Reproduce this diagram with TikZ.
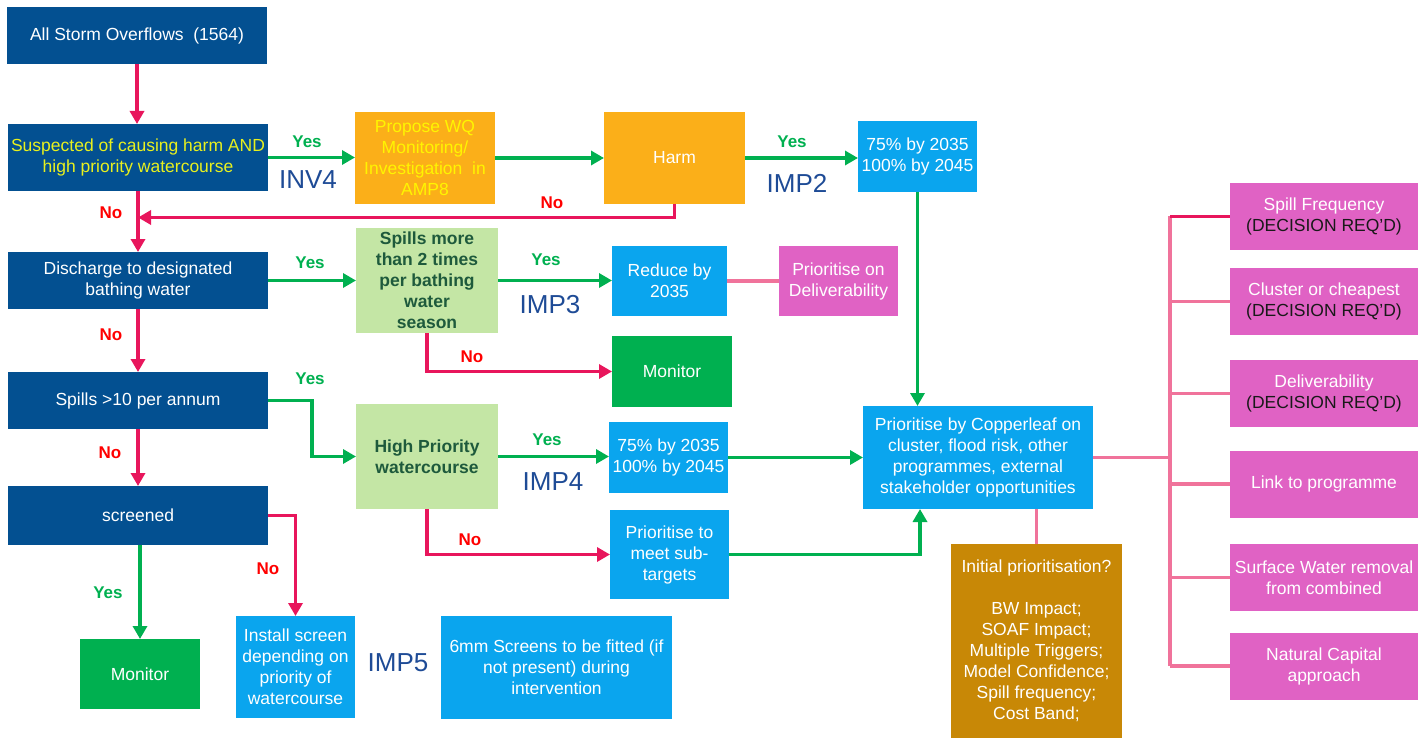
\documentclass[tikz,border=0pt]{standalone}
\usepackage{fontspec}
\setmainfont{Liberation Sans}
\usetikzlibrary{arrows.meta}

\definecolor{navy}{RGB}{3,80,145}
\definecolor{amber}{RGB}{251,175,25}
\definecolor{sky}{RGB}{10,165,238}
\definecolor{pale}{RGB}{196,230,165}
\definecolor{leaf}{RGB}{0,176,80}
\definecolor{orchid}{RGB}{224,98,196}
\definecolor{ochre}{RGB}{200,136,6}
\definecolor{crimson}{RGB}{232,22,92}
\definecolor{rose}{RGB}{240,115,155}
\definecolor{forest}{RGB}{30,90,60}
\definecolor{impblue}{RGB}{30,75,150}
\definecolor{lemon}{RGB}{232,240,30}
\definecolor{sun}{RGB}{255,245,0}
\definecolor{ink}{RGB}{25,25,25}

\tikzset{
  box/.style={inner sep=2pt, outer sep=0pt, align=center, text=white,
    font=\fontsize{17.5pt}{21pt}\selectfont},
  navybox/.style={box, fill=navy},
  amberbox/.style={box, fill=amber},
  skybox/.style={box, fill=sky},
  palebox/.style={box, fill=pale, text=forest, font=\bfseries\fontsize{17.5pt}{21pt}\selectfont},
  leafbox/.style={box, fill=leaf},
  orchidbox/.style={box, fill=orchid, minimum width=188pt, minimum height=67pt},
  ochrebox/.style={box, fill=ochre},
  yesarrow/.style={draw=leaf, line width=3.6pt, -{Triangle[length=13pt,width=14pt]}},
  noarrow/.style={draw=crimson, line width=3.6pt, -{Triangle[length=13pt,width=14pt]}},
  roseline/.style={draw=rose, line width=3.6pt},
  crimsonline/.style={draw=crimson, line width=3.6pt},
  yeslab/.style={text=leaf, font=\bfseries\fontsize{17pt}{20pt}\selectfont},
  nolab/.style={text=red, font=\bfseries\fontsize{17pt}{20pt}\selectfont},
  implab/.style={text=impblue, font=\fontsize{26pt}{30pt}\selectfont},
}

\newcommand{\decision}{\\{\color{ink}(DECISION REQ’D)}}

\begin{document}
\begin{tikzpicture}[x=1pt, y=-1pt]
\useasboundingbox (0,0) rectangle (1424,738);

% ---- main decision column ----
\node[navybox, minimum width=260pt, minimum height=57pt] (all) at (137,35.5) {All Storm Overflows\ \ (1564)};
\node[navybox, minimum width=260pt, minimum height=67pt, text=lemon] (susp) at (138,157.5) {Suspected of causing harm AND\\high priority watercourse};
\node[navybox, minimum width=260pt, minimum height=57pt] (disch) at (138,280.5) {Discharge to designated\\bathing water};
\node[navybox, minimum width=260pt, minimum height=57pt] (spills10) at (138,400.5) {Spills {>}10 per annum};
\node[navybox, minimum width=260pt, minimum height=59pt] (screened) at (138,515.5) {screened};
\node[leafbox, minimum width=120pt, minimum height=70pt] (mon2) at (140,674) {Monitor};

% ---- harm investigation row ----
\node[amberbox, minimum width=140pt, minimum height=92pt, text=sun] (prop) at (425,158) {Propose WQ\\Monitoring/\\Investigation\ \ in\\AMP8};
\node[amberbox, minimum width=141pt, minimum height=92pt] (harm) at (674.5,158) {Harm};
\node[skybox, minimum width=119pt, minimum height=71pt] (ta) at (917.5,156.5) {75\% by 2035\\100\% by 2045};

% ---- bathing water row ----
\node[palebox, minimum width=142pt, minimum height=105pt] (spills2) at (427,280.5) {Spills more\\than 2 times\\per bathing\\water\\season};
\node[skybox, minimum width=115pt, minimum height=70pt] (reduce) at (669.5,281) {Reduce by\\2035};
\node[orchidbox, minimum width=119pt, minimum height=70pt] (deliv) at (838.5,281) {Prioritise on\\Deliverability};
\node[leafbox, minimum width=120pt, minimum height=71pt] (mon1) at (672,371.5) {Monitor};

% ---- high priority row ----
\node[palebox, minimum width=142pt, minimum height=105pt] (hp) at (427,456.5) {High Priority\\watercourse};
\node[skybox, minimum width=119pt, minimum height=71pt] (tb) at (668.5,457.5) {75\% by 2035\\100\% by 2045};
\node[skybox, minimum width=119pt, minimum height=89pt] (sub) at (669.5,554.5) {Prioritise to\\meet sub-\\targets};
\node[skybox, minimum width=230pt, minimum height=103pt] (copper) at (978,457.5) {Prioritise by Copperleaf on\\cluster,\ flood risk, other\\programmes, external\\stakeholder\ opportunities};
\node[ochrebox, minimum width=171pt, minimum height=194pt] (init) at (1036.5,641) {Initial\ prioritisation?\\[21pt]BW Impact;\\SOAF Impact;\\Multiple\ Triggers;\\Model Confidence;\\Spill frequency;\\Cost Band;};

% ---- screens row ----
\node[skybox, minimum width=119pt, minimum height=102pt] (install) at (295.5,667) {Install\ screen\\depending on\\priority of\\watercourse};
\node[skybox, minimum width=231pt, minimum height=103pt] (sixmm) at (556.5,667.5) {6mm Screens to be fitted (if\\not present) during\\intervention};

% ---- decision options ----
\node[orchidbox] (sf) at (1324,216.5) {Spill Frequency\decision};
\node[orchidbox] (cl) at (1324,301.5) {Cluster\ or cheapest\decision};
\node[orchidbox] (dv) at (1324,393.5) {Deliverability\decision};
\node[orchidbox] (lk) at (1324,484) {Link to programme};
\node[orchidbox] (sw) at (1324,577.5) {Surface Water removal\\from combined};
\node[orchidbox] (nc) at (1324,666) {Natural\ Capital\\approach};

% ---- helper coordinates ----
\coordinate (nojoin) at (138,217.5);
\coordinate (bend10) at (312,400.5);
\coordinate (copperIn) at (920,509);
\coordinate (trunkTop) at (1170,216.5);
\coordinate (trunkBot) at (1170,666);

% ---- connectors: main column ----
\draw[noarrow] (all.south) -- (all.south |- susp.north);
\draw[noarrow] (susp.south) -- (disch.north);
\draw[noarrow] (disch.south) -- (spills10.north);
\draw[noarrow] (spills10.south) -- (screened.north);
\draw[yesarrow] (screened.south -| mon2.north) -- (mon2.north);
\draw[noarrow] (screened.east) -| (install.north);

% ---- connectors: harm branch ----
\draw[yesarrow] (susp.east) -- (susp.east -| prop.west);
\draw[yesarrow] (prop.east) -- (harm.west);
\draw[yesarrow] (harm.east) -- (harm.east -| ta.west);
\draw[noarrow] (harm.south) |- (nojoin);
\draw[yesarrow] (ta.south) -- (ta.south |- copper.north);

% ---- connectors: bathing water branch ----
\draw[yesarrow] (disch.east) -- (disch.east -| spills2.west);
\draw[yesarrow] (spills2.east) -- (spills2.east -| reduce.west);
\draw[roseline] (reduce.east) -- (deliv.west);
\draw[noarrow] (spills2.south) |- (mon1.west);

% ---- connectors: high priority branch ----
\draw[yesarrow] (spills10.east) -- (bend10) |- (hp.west);
\draw[yesarrow] (hp.east) -- (hp.east -| tb.west);
\draw[noarrow] (hp.south) |- (sub.west);
\draw[yesarrow] (tb.east) -- (tb.east -| copper.west);
\draw[yesarrow] (sub.east) -| (copperIn);

% ---- connectors: prioritisation tree ----
\draw[roseline] (copper.south -| init.north) -- (init.north);
\draw[roseline] (copper.east) -- (copper.east -| trunkTop);
\draw[roseline] (trunkTop) -- (trunkBot);
\draw[crimsonline] (trunkTop) -- (sf.west);
\draw[roseline] (cl.west -| trunkTop) -- (cl.west);
\draw[roseline] (dv.west -| trunkTop) -- (dv.west);
\draw[roseline] (lk.west -| trunkTop) -- (lk.west);
\draw[roseline] (sw.west -| trunkTop) -- (sw.west);
\draw[roseline] (nc.west -| trunkTop) -- (nc.west);

% ---- branch labels ----
\node[yeslab] (y1) at (307,142) {Yes};
\node[implab] (inv4) at (308,180) {INV4};
\node[yeslab] (y2) at (792,142) {Yes};
\node[implab] (imp2) at (797,183) {IMP2};
\node[nolab] (n1) at (552,203) {No};
\node[nolab] (n2) at (111,213) {No};
\node[yeslab] (y3) at (310,263) {Yes};
\node[yeslab] (y4) at (546,260) {Yes};
\node[implab] (imp3) at (550,305) {IMP3};
\node[nolab] (n3) at (111,335) {No};
\node[nolab] (n4) at (472,357) {No};
\node[yeslab] (y5) at (310,379) {Yes};
\node[yeslab] (y6) at (547,440) {Yes};
\node[implab] (imp4) at (553,482) {IMP4};
\node[nolab] (n5) at (110,453) {No};
\node[nolab] (n6) at (470,540) {No};
\node[nolab] (n7) at (268,569) {No};
\node[yeslab] (y7) at (108,593) {Yes};
\node[implab] (imp5) at (398,663) {IMP5};
\end{tikzpicture}
\end{document}
